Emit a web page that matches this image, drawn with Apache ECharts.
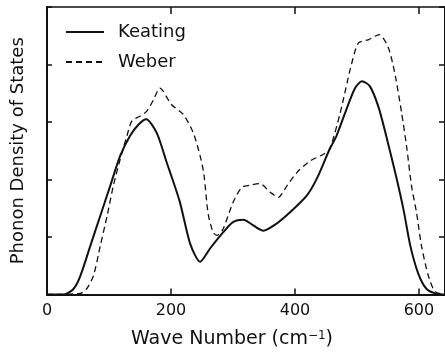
<!DOCTYPE html>
<html>
<head>
<meta charset="utf-8">
<script src="https://cdn.jsdelivr.net/npm/echarts@6/dist/echarts.min.js"></script>
<style>
  html, body { margin: 0; padding: 0; background: #fff; }
  #chart { width: 445px; height: 354px; }
</style>
</head>
<body>
<div id="chart"></div>
<script>
var xTicks = [0, 200, 400, 600];

var keatingX = [0, 27, 43, 54, 70, 86, 102, 118, 134, 148, 160, 177, 193, 214, 231, 247, 263, 284, 300, 317, 333, 349, 370, 392, 419, 435, 456, 467, 483, 497, 508, 521, 535, 549, 563, 575, 586, 599, 612, 626, 642];
var keatingY = [0, 0, 0.1, 0.33, 0.85, 1.37, 1.89, 2.41, 2.76, 2.96, 3.05, 2.81, 2.30, 1.62, 0.88, 0.57, 0.80, 1.08, 1.26, 1.30, 1.20, 1.11, 1.23, 1.43, 1.72, 2.01, 2.53, 2.76, 3.22, 3.59, 3.71, 3.62, 3.25, 2.68, 2.06, 1.48, 0.85, 0.36, 0.1, 0.02, 0];

var weberX = [0, 54, 64, 75, 86, 97, 107, 118, 129, 137, 150, 161, 172, 182, 201, 220, 236, 247, 253, 260, 268, 274, 284, 300, 314, 327, 343, 360, 373, 387, 403, 424, 446, 456, 473, 489, 502, 518, 536, 550, 558, 563, 572, 580, 588, 596, 604, 615, 626, 642];
var weberY = [0, 0.02, 0.1, 0.33, 0.85, 1.37, 1.89, 2.35, 2.76, 3.02, 3.10, 3.19, 3.39, 3.59, 3.30, 3.13, 2.81, 2.41, 2.1, 1.4, 1.08, 1.03, 1.14, 1.60, 1.86, 1.90, 1.93, 1.78, 1.69, 1.89, 2.12, 2.32, 2.44, 2.53, 3.16, 3.91, 4.37, 4.43, 4.52, 4.31, 4.0, 3.74, 3.16, 2.58, 1.89, 1.43, 0.85, 0.33, 0.05, 0];

function pairs(xs, ys) {
    var out = [];
    for (var i = 0; i < xs.length; i++) out.push([xs[i], ys[i]]);
    return out;
}

var myChart = echarts.init(document.getElementById('chart'));
var font = 'DejaVu Sans';
var ink = '#111';

option = {
    animation: false,
    backgroundColor: '#fff',
    grid: { left: 47, right: -1, top: 7, bottom: 58 },
    legend: {
        orient: 'vertical',
        left: 60,
        top: 18,
        itemWidth: 38,
        itemHeight: 14,
        itemGap: 12,
        itemStyle: { opacity: 0, color: 'rgba(0,0,0,0)', borderWidth: 0 },
        textStyle: { fontFamily: font, fontSize: 18, color: ink, padding: [0, 0, 0, 9] },
        data: ['Keating', 'Weber']
    },
    xAxis: [{
        type: 'value',
        min: 0,
        max: 642,
        interval: 200,
        position: 'bottom',
        name: 'Wave Number (cm{sup|−1})',
        nameLocation: 'middle',
        nameGap: 35,
        nameTextStyle: {
            fontFamily: font, fontSize: 19, color: ink, padding: [0, 28, 0, 0],
            rich: { sup: { fontFamily: font, fontSize: 12, color: ink, verticalAlign: 'top', padding: [0, 0, 8, 0] } }
        },
        splitLine: { show: false },
        axisLine: { onZero: false, lineStyle: { color: ink, width: 2 } },
        axisTick: { inside: true, length: 6, lineStyle: { color: ink, width: 1.5 } },
        axisLabel: {
            fontFamily: font, fontSize: 16, color: ink, margin: 8,
            customValues: xTicks,
            formatter: function (v) { return String(v); }
        }
    }, {
        type: 'value',
        min: 0,
        max: 642,
        interval: 200,
        position: 'top',
        splitLine: { show: false },
        axisLine: { onZero: false, lineStyle: { color: ink, width: 1.5 } },
        axisTick: { inside: true, length: 7, lineStyle: { color: ink, width: 1.5 } },
        axisLabel: { show: false }
    }],
    yAxis: [{
        type: 'value',
        min: 0,
        max: 5,
        interval: 1,
        position: 'left',
        name: 'Phonon Density of States',
        nameLocation: 'middle',
        nameGap: 20,
        nameTextStyle: { fontFamily: font, fontSize: 18, color: ink },
        splitLine: { show: false },
        axisLine: { onZero: false, lineStyle: { color: ink, width: 2 } },
        axisTick: { inside: true, length: 5, lineStyle: { color: ink, width: 1.5 } },
        axisLabel: { show: false }
    }, {
        type: 'value',
        min: 0,
        max: 5,
        interval: 1,
        position: 'right',
        splitLine: { show: false },
        axisLine: { onZero: false, lineStyle: { color: ink, width: 2 } },
        axisTick: { inside: true, length: 6, lineStyle: { color: ink, width: 1.5 } },
        axisLabel: { show: false }
    }],
    series: [{
        name: 'Keating',
        type: 'line',
        symbol: 'none',
        smooth: 0.25,
        lineStyle: { color: ink, width: 2 },
        itemStyle: { color: ink },
        data: pairs(keatingX, keatingY)
    }, {
        name: 'Weber',
        type: 'line',
        symbol: 'none',
        smooth: 0.25,
        lineStyle: { color: ink, width: 1.3, type: [6, 4] },
        itemStyle: { color: ink },
        data: pairs(weberX, weberY)
    }]
};

myChart.setOption(option);
</script>
</body>
</html>
